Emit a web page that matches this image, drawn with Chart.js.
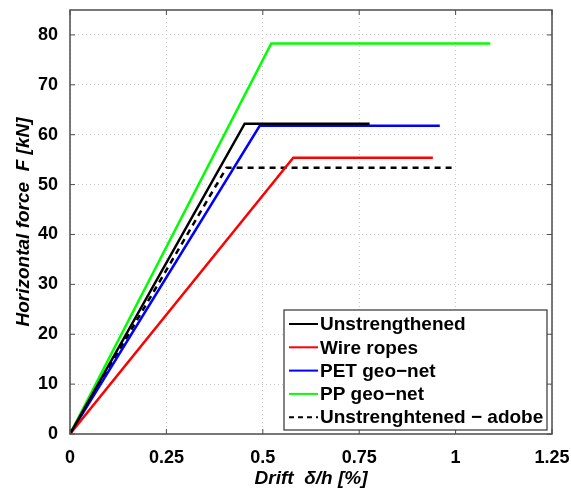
<!DOCTYPE html>
<html>
<head>
<meta charset="utf-8">
<script src="https://cdn.jsdelivr.net/npm/chart.js@4/dist/chart.umd.min.js"></script>
<style>
  html, body { margin: 0; padding: 0; background: #fff; }
  #wrap { width: 571px; height: 490px; }
</style>
</head>
<body>
<div id="wrap"><canvas id="c" width="571" height="490"></canvas></div>
<script>
// series: [drift %, force kN]
var seriesNames = ['Unstrengthened', 'Wire ropes', 'PET geo\u2212net', 'PP geo\u2212net', 'Unstrenghtened \u2212 adobe'];
var unstrengthened = [[0, 0], [0.453, 62.2], [0.777, 62.2]];
var wireRopes      = [[0, 0], [0.579, 55.4], [0.941, 55.4]];
var petGeoNet      = [[0, 0], [0.492, 61.8], [0.959, 61.8]];
var ppGeoNet       = [[0, 0], [0.522, 78.3], [1.09, 78.3]];
var adobe          = [[0, 0], [0.406, 53.4], [1.0, 53.4]];

var xTicks = [0, 0.25, 0.5, 0.75, 1, 1.25];
var yTicks = [0, 10, 20, 30, 40, 50, 60, 70, 80];

var colors = ['#000000', '#ff0000', '#0000ff', '#00ff00', '#000000'];
var dashes = [[], [], [], [], [6, 5]];
var allSeries = [unstrengthened, wireRopes, petGeoNet, ppGeoNet, adobe];

function toPts(arr) {
  return arr.map(function (p) { return { x: p[0], y: p[1] }; });
}

var datasets = [];
for (var i = 0; i < allSeries.length; i++) {
  datasets.push({
    label: seriesNames[i],
    data: toPts(allSeries[i]),
    borderColor: colors[i],
    backgroundColor: colors[i],
    borderWidth: 2.5,
    borderDash: dashes[i],
    pointRadius: 0,
    fill: false,
    tension: 0
  });
}

// frame + inward tick marks, like the matlab box
var framePlugin = {
  id: 'frame',
  afterDraw: function (chart) {
    var ctx = chart.ctx, a = chart.chartArea;
    var xs = chart.scales.x, ys = chart.scales.y;
    ctx.save();
    ctx.strokeStyle = '#4d4d4d';
    ctx.lineWidth = 1.5;
    ctx.setLineDash([]);
    ctx.strokeRect(a.left, a.top, a.right - a.left, a.bottom - a.top);
    ctx.lineWidth = 1;
    var L = 5;
    xTicks.forEach(function (v) {
      var px = xs.getPixelForValue(v);
      ctx.beginPath();
      ctx.moveTo(px, a.bottom); ctx.lineTo(px, a.bottom - L);
      ctx.moveTo(px, a.top); ctx.lineTo(px, a.top + L);
      ctx.stroke();
    });
    yTicks.forEach(function (v) {
      var py = ys.getPixelForValue(v);
      ctx.beginPath();
      ctx.moveTo(a.left, py); ctx.lineTo(a.left + L, py);
      ctx.moveTo(a.right, py); ctx.lineTo(a.right - L, py);
      ctx.stroke();
    });
    ctx.restore();
  }
};

// legend drawn inside the plot, lower right
var legendPlugin = {
  id: 'insideLegend',
  afterDraw: function (chart) {
    var ctx = chart.ctx, a = chart.chartArea;
    var boxL = 284, boxT = 310, boxR = a.right - 5, boxB = a.bottom - 4;
    ctx.save();
    ctx.fillStyle = '#fff';
    ctx.fillRect(boxL, boxT, boxR - boxL, boxB - boxT);
    ctx.strokeStyle = '#333';
    ctx.lineWidth = 1.2;
    ctx.setLineDash([]);
    ctx.strokeRect(boxL, boxT, boxR - boxL, boxB - boxT);
    ctx.font = 'bold 19px "Liberation Sans", Arial, sans-serif';
    ctx.textBaseline = 'middle';
    chart.data.datasets.forEach(function (ds, k) {
      var yy = 324 + k * 23.3;
      ctx.strokeStyle = ds.borderColor;
      ctx.lineWidth = 2;
      ctx.setLineDash(ds.borderDash.length ? [5, 4] : []);
      ctx.beginPath();
      ctx.moveTo(boxL + 5, yy); ctx.lineTo(boxL + 34, yy);
      ctx.stroke();
      ctx.setLineDash([]);
      ctx.fillStyle = '#000';
      ctx.fillText(ds.label, boxL + 36, yy + 1);
    });
    ctx.restore();
  }
};

var tickFont = { family: '"Liberation Sans", Arial, sans-serif', size: 18, weight: 'bold' };
var titleFont = { family: '"Liberation Sans", Arial, sans-serif', size: 19, weight: 'bold', style: 'italic' };

new Chart(document.getElementById('c'), {
  type: 'line',
  data: { datasets: datasets },
  plugins: [framePlugin, legendPlugin],
  options: {
    responsive: false,
    animation: false,
    layout: { padding: { top: 10, right: 19, left: 0, bottom: 0 } },
    plugins: { legend: { display: false }, tooltip: { enabled: false } },
    scales: {
      x: {
        type: 'linear',
        min: 0, max: 1.25,
        afterBuildTicks: function (s) { s.ticks = xTicks.map(function (v) { return { value: v }; }); },
        afterFit: function (s) { s.height = 56; s.paddingLeft = 0; s.paddingRight = 0; },
        ticks: { font: tickFont, color: '#000', padding: 13, maxRotation: 0,
          callback: function (v) { return String(v); } },
        grid: { color: '#c8c8c8', lineWidth: 1, drawTicks: false, tickLength: 0 },
        border: { display: false, dash: [1, 3] },
        title: { display: true, text: 'Drift  \u03b4/h [%]', font: titleFont, color: '#000', padding: { top: 0, bottom: 0 } }
      },
      y: {
        type: 'linear',
        min: 0, max: 85,
        afterBuildTicks: function (s) { s.ticks = yTicks.map(function (v) { return { value: v }; }); },
        afterFit: function (s) { s.width = 70; s.paddingTop = 0; s.paddingBottom = 0; },
        ticks: { font: tickFont, color: '#000', padding: 12 },
        grid: { color: '#c8c8c8', lineWidth: 1, drawTicks: false, tickLength: 0 },
        border: { display: false, dash: [1, 3] },
        title: { display: true, text: 'Horizontal force  F [kN]', font: titleFont, color: '#000', padding: { top: 12, bottom: 0 } }
      }
    }
  }
});
</script>
</body>
</html>
